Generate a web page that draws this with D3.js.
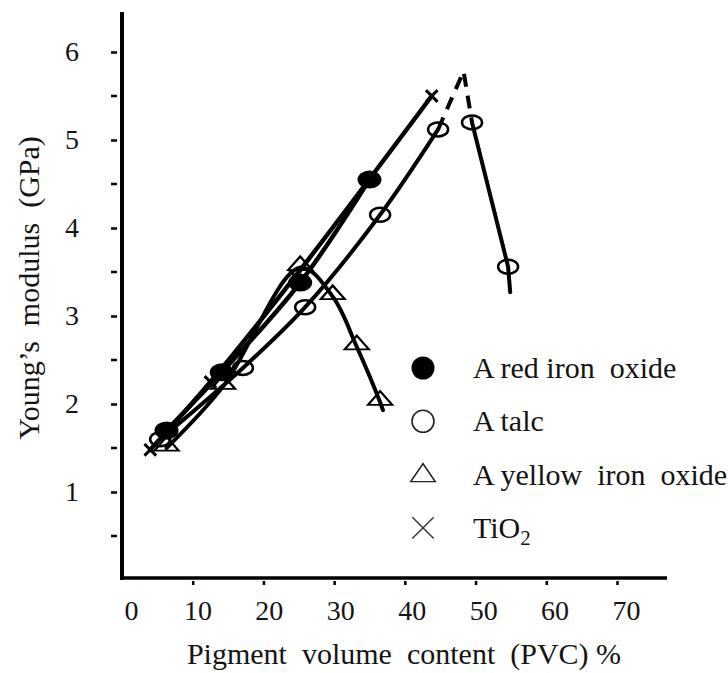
<!DOCTYPE html>
<html>
<head>
<meta charset="utf-8">
<script src="https://cdn.jsdelivr.net/npm/d3@7"></script>
<style>
  body { margin: 0; background: #fff; }
  svg { display: block; }
</style>
</head>
<body>
<svg id="chart" width="728" height="673"></svg>
<script>
// Tick values
const xTicks = [0, 10, 20, 30, 40, 50, 60, 70];
const yTicks = [1, 2, 3, 4, 5, 6];
const yMinorTicks = [0.5, 1.5, 2.5, 3.5, 4.5, 5.5];

// Young's modulus (GPa) against PVC (%) for each pigment
const redIronOxide = [[6.3, 1.70], [14.1, 2.36], [25.2, 3.38], [35.0, 4.55]];
const talc = [[5.4, 1.60], [17.1, 2.41], [25.9, 3.10], [36.5, 4.15], [44.7, 5.12]];
const talcExtrapolated = [[44.7, 5.12], [48.3, 5.78], [49.5, 5.20]];
const talcAboveCpvc = [[49.5, 5.20], [54.6, 3.56]];
const talcLineEnd = [54.9, 3.27];
const yellowIronOxide = [[6.3, 1.50], [14.3, 2.20], [25.2, 3.55], [29.8, 3.22], [33.2, 2.65], [36.5, 2.02]];
const yellowLineEnd = [36.9, 1.93];
const tio2 = [[4.0, 1.48], [12.5, 2.25], [24.5, 3.45], [43.8, 5.50]];

const legendLabels = ["A red iron  oxide", "A talc", "A yellow  iron  oxide", "TiO2"];

const SERIF = "'Liberation Serif', 'Times New Roman', serif";
const INK = "#141414";

const svg = d3.select("#chart");
const x = d3.scaleLinear().domain([0, 70]).range([122, 617]);
const y = d3.scaleLinear().domain([0, 6]).range([580, 52]);

// Axis frame
svg.append("line").attr("x1", 122).attr("x2", 122).attr("y1", 12).attr("y2", 580)
  .attr("stroke", "#000").attr("stroke-width", 4);
svg.append("line").attr("x1", 120).attr("x2", 667).attr("y1", 578).attr("y2", 578)
  .attr("stroke", "#000").attr("stroke-width", 3.5);

// Y ticks (major + minor), small marks just left of the axis
const yAxis = d3.axisLeft(y).tickValues(yTicks).tickSize(6).tickPadding(32).tickFormat(d3.format("d"));
const gy = svg.append("g").attr("transform", "translate(117,0)").call(yAxis);
gy.select(".domain").remove();
gy.selectAll(".tick line").attr("stroke", "#000").attr("stroke-width", 2.5);
gy.selectAll(".tick text").style("font-family", SERIF).style("font-size", "28px").style("fill", INK);
svg.append("g").selectAll("line").data(yMinorTicks).join("line")
  .attr("x1", 111).attr("x2", 117).attr("y1", d => y(d)).attr("y2", d => y(d))
  .attr("stroke", "#000").attr("stroke-width", 2.5);

// X ticks
const xAxis = d3.axisBottom(x).tickValues(xTicks).tickSize(6).tickPadding(15).tickFormat(d3.format("d"));
const gx = svg.append("g").attr("transform", "translate(0,579)").call(xAxis);
gx.select(".domain").remove();
gx.selectAll(".tick line").attr("stroke", "#000").attr("stroke-width", 2.5)
  .attr("y1", 2).attr("y2", 6).style("display", d => d === 0 ? "none" : null);
gx.selectAll(".tick text").style("font-family", SERIF).style("font-size", "28px").style("fill", INK)
  .attr("dx", d => d === 0 ? 9 : 4 + d / 14);

// Axis titles
svg.append("text").attr("x", 404).attr("y", 664).attr("text-anchor", "middle")
  .style("font-family", SERIF).style("font-size", "30px").style("fill", INK).style("white-space", "pre")
  .text("Pigment  volume  content  (PVC) %");
svg.append("text").attr("transform", "translate(39,288) rotate(-90)").attr("text-anchor", "middle")
  .style("font-family", SERIF).style("font-size", "30px").style("fill", INK).style("white-space", "pre")
  .text("Young\u2019s  modulus  (GPa)");

// Curves
const line = d3.line().x(d => x(d[0])).y(d => y(d[1])).curve(d3.curveCatmullRom.alpha(0.5));
const straight = d3.line().x(d => x(d[0])).y(d => y(d[1]));
const plot = svg.append("g").attr("fill", "none").attr("stroke", "#000").attr("stroke-linecap", "round");
plot.append("path").attr("d", line(tio2)).attr("stroke-width", 4.5);
plot.append("path").attr("d", line(redIronOxide)).attr("stroke-width", 4.5);
plot.append("path").attr("d", line(talc)).attr("stroke-width", 4);
plot.append("path").attr("d", straight(talcExtrapolated))
  .attr("stroke-width", 4).attr("stroke-dasharray", "13 9").attr("stroke-linecap", "butt");
plot.append("path").attr("d", straight(talcAboveCpvc.concat([talcLineEnd]))).attr("stroke-width", 4);
plot.append("path").attr("d", line(yellowIronOxide.concat([yellowLineEnd]))).attr("stroke-width", 4);

// Markers
const marks = svg.append("g");
marks.selectAll(".red").data(redIronOxide).join("ellipse")
  .attr("cx", d => x(d[0])).attr("cy", d => y(d[1])).attr("rx", 12).attr("ry", 9).attr("fill", "#000");
marks.selectAll(".talc").data(talc.concat(talcAboveCpvc)).join("ellipse")
  .attr("cx", d => x(d[0])).attr("cy", d => y(d[1])).attr("rx", 10).attr("ry", 7)
  .attr("fill", "none").attr("stroke", "#000").attr("stroke-width", 2.5);
const tri = d3.symbol().type(d3.symbolTriangle).size(150);
marks.selectAll(".yellow").data(yellowIronOxide).join("path")
  .attr("d", tri).attr("transform", d => `translate(${x(d[0])},${y(d[1]) - 2}) scale(1.3,0.85)`)
  .attr("fill", "none").attr("stroke", "#000").attr("stroke-width", 2);
const cross = d3.symbol().type(d3.symbolTimes).size(90);
marks.selectAll(".tio2").data(tio2).join("path")
  .attr("d", cross).attr("transform", d => `translate(${x(d[0])},${y(d[1])})`)
  .attr("fill", "none").attr("stroke", "#000").attr("stroke-width", 3);

// Legend
const legend = svg.append("g").attr("transform", "translate(423,368)");
const rowGap = 53.3;
legend.append("circle").attr("cx", 0).attr("cy", 0).attr("r", 11.5).attr("fill", "#000");
legend.append("circle").attr("cx", 0).attr("cy", rowGap).attr("r", 11)
  .attr("fill", "none").attr("stroke", "#222").attr("stroke-width", 1.6);
legend.append("path").attr("d", d3.symbol().type(d3.symbolTriangle).size(260))
  .attr("transform", `translate(0,${rowGap * 2 + 1}) scale(1,0.85)`)
  .attr("fill", "none").attr("stroke", "#222").attr("stroke-width", 1.6);
legend.append("path").attr("d", d3.symbol().type(d3.symbolTimes).size(300))
  .attr("transform", `translate(0,${rowGap * 3})`)
  .attr("fill", "none").attr("stroke", "#333").attr("stroke-width", 1.4);
legend.selectAll("text.lbl").data(legendLabels).join("text").attr("class", "lbl")
  .attr("x", 50).attr("y", (d, i) => i * rowGap + 10)
  .style("font-family", SERIF).style("font-size", "30px").style("fill", INK).style("white-space", "pre")
  .each(function(d) {
    const t = d3.select(this);
    if (d === "TiO2") {
      t.append("tspan").text("TiO");
      t.append("tspan").style("font-size", "21px").attr("dy", 7).text("2");
    } else {
      t.text(d);
    }
  });
</script>
</body>
</html>
